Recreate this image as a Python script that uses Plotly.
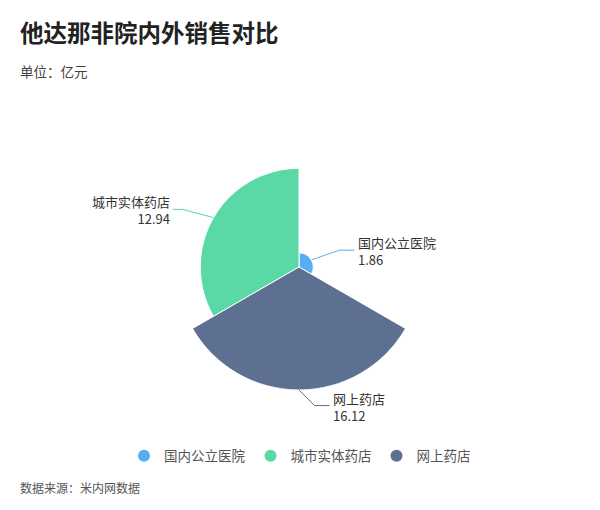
import math
import plotly.graph_objects as go

# ---- data ----
categories = ["国内公立医院", "城市实体药店", "网上药店"]
values = [1.86, 12.94, 16.12]
value_labels = ["1.86", "12.94", "16.12"]

title_text = "他达那非院内外销售对比"
subtitle_text = "单位：亿元"
source_text = "数据来源：米内网数据"

# ---- style / layout ----
colors = ["#58aef5", "#5ad8a6", "#5d7092"]
W, H = 600, 510
OFF = 8                              # page body margin compensation (px)
CX, CY, R = 299 - OFF, 267 - OFF, 123  # pie centre and max radius (px)
ROT = -30                            # angular offset of first slice edge
FONT = "Noto Sans CJK SC"
# leader line shape per slice: turn direction (deg), first & second segment lengths (px)
leader = [dict(ang=19, len1=30, len2=15),
          dict(ang=165, len1=32, len2=10),
          dict(ang=-45, len1=22, len2=15)]

n = len(values)
step = 360 / n
thetas = [step * i + step / 2 for i in range(n)]
vmax = max(values)

fig = go.Figure()
fig.add_trace(go.Barpolar(
    r=values, theta=thetas, width=[step] * n,
    marker=dict(color=colors, line=dict(color="white", width=1)),
    showlegend=False, hoverinfo="skip"))
for c, col in zip(categories, colors):
    fig.add_trace(go.Scatterpolar(r=[None], theta=[None], mode="markers", name=c,
                                  marker=dict(color=col, size=12, symbol="circle")))

annotations = []
for i, (v, lab, col) in enumerate(zip(values, value_labels, colors)):
    a = math.radians(ROT + thetas[i])
    rp = v / vmax * R
    x0, y0 = CX + rp * math.cos(a), CY - rp * math.sin(a)
    ld = leader[i]
    b = math.radians(ld["ang"])
    x1, y1 = x0 + ld["len1"] * math.cos(b), y0 - ld["len1"] * math.sin(b)
    side = 1 if math.cos(b) > 0 else -1
    x2, y2 = x1 + side * ld["len2"], y1
    fig.add_trace(go.Scatter(x=[x0, x1, x2], y=[y0, y1, y2], mode="lines",
                             line=dict(color=col, width=1), showlegend=False,
                             hoverinfo="skip", xaxis="x", yaxis="y"))
    anchor = "left" if side > 0 else "right"
    tx = x2 + side * 2
    annotations.append(dict(x=tx, y=y1 + 1, xref="x", yref="y",
                            text=f"{categories[i]}<br>{lab}",
                            showarrow=False, xanchor=anchor, yanchor="middle", align=anchor,
                            borderpad=0,
                            font=dict(family=FONT, size=13, color="#333333")))

annotations += [
    dict(x=(18 - OFF) / W, y=1 - (32 - OFF) / H, xref="paper", yref="paper", text=title_text,
         showarrow=False, xanchor="left", yanchor="middle",
         font=dict(family=FONT, size=23.5, color="#222222", weight="bold")),
    dict(x=(18 - OFF) / W, y=1 - (71 - OFF) / H, xref="paper", yref="paper", text=subtitle_text,
         showarrow=False, xanchor="left", yanchor="middle",
         font=dict(family=FONT, size=13.5, color="#444444")),
    dict(x=(18 - OFF) / W, y=1 - (487 - OFF) / H, xref="paper", yref="paper", text=source_text,
         showarrow=False, xanchor="left", yanchor="middle",
         font=dict(family=FONT, size=12, color="#555555")),
]

fig.update_layout(
    width=W, height=H,
    margin=dict(l=0, r=0, t=0, b=0),
    paper_bgcolor="white", plot_bgcolor="rgba(0,0,0,0)",
    font=dict(family=FONT),
    polar=dict(
        domain=dict(x=[(CX - R) / W, (CX + R) / W], y=[(H - CY - R) / H, (H - CY + R) / H]),
        bgcolor="rgba(0,0,0,0)",
        radialaxis=dict(range=[0, vmax], visible=False, showgrid=False),
        angularaxis=dict(direction="counterclockwise", rotation=ROT, visible=False,
                         showgrid=False, showline=False, showticklabels=False, ticks=""),
    ),
    xaxis=dict(range=[0, W], visible=False, fixedrange=True, domain=[0, 1]),
    yaxis=dict(range=[H, 0], visible=False, fixedrange=True, domain=[0, 1]),
    legend=dict(orientation="h", x=(300 - OFF) / W, xanchor="center", y=1 - (456 - OFF) / H,
                yanchor="middle",
                font=dict(family=FONT, size=13.5, color="#555555"),
                itemsizing="constant", bgcolor="rgba(0,0,0,0)"),
    annotations=annotations,
    showlegend=True,
)

fig.write_html("out.html")
